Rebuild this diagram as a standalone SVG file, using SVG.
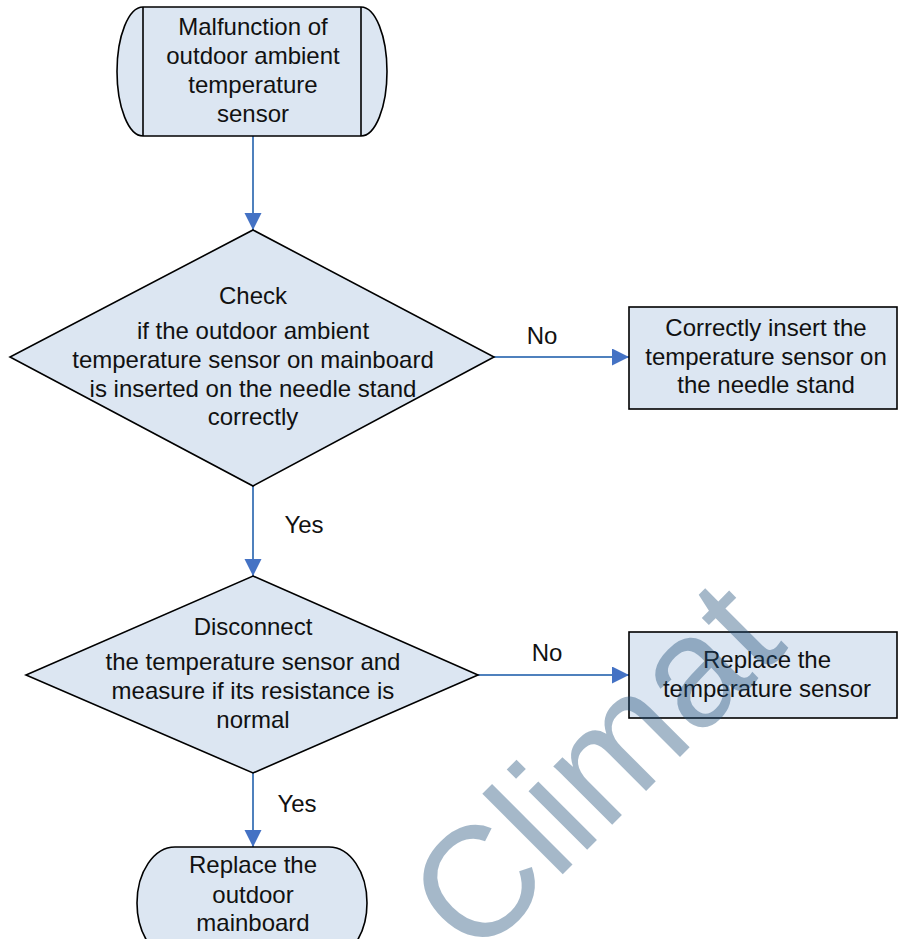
<svg xmlns="http://www.w3.org/2000/svg" width="899" height="939" viewBox="0 0 899 939">
<defs>
<style>
.node{fill:#dce6f2;stroke:#000;stroke-width:1.6}
.t{font-family:"Liberation Sans",Arial,sans-serif;font-size:24px;fill:#111;text-anchor:middle}
.c{stroke:#4f81bd;stroke-width:2;fill:none}
.wm{font-family:"Liberation Sans",Arial,sans-serif;font-size:157px;fill:#1f4e79;fill-opacity:0.4}
</style>
<marker id="ah" markerUnits="userSpaceOnUse" markerWidth="18" markerHeight="18" refX="17" refY="8.5" orient="auto">
<path d="M0,0 L17,8.5 L0,17 Z" fill="#4472c4"/>
</marker>
</defs>
<rect width="899" height="939" fill="#fff"/>
<g id="connectors">
<line class="c" x1="253" y1="136" x2="253" y2="230" marker-end="url(#ah)"/>
<line class="c" x1="494" y1="357" x2="629" y2="357" marker-end="url(#ah)"/>
<line class="c" x1="253" y1="486" x2="253" y2="576" marker-end="url(#ah)"/>
<line class="c" x1="478" y1="675" x2="629" y2="675" marker-end="url(#ah)"/>
<line class="c" x1="253" y1="773" x2="253" y2="847" marker-end="url(#ah)"/>
<text class="t" x="542" y="344">No</text>
<text class="t" x="304" y="533">Yes</text>
<text class="t" x="547" y="661">No</text>
<text class="t" x="297" y="812">Yes</text>
</g>
<g id="start">
<path class="node" d="M143,7 L361,7 A26,64.5 0 0 1 361,136 L143,136 A26,64.5 0 0 1 143,7 Z"/>
<line x1="143" y1="7" x2="143" y2="136" stroke="#000" stroke-width="1.6"/>
<line x1="361" y1="7" x2="361" y2="136" stroke="#000" stroke-width="1.6"/>
<text class="t" x="253" y="35">Malfunction of</text>
<text class="t" x="253" y="64">outdoor ambient</text>
<text class="t" x="253" y="93">temperature</text>
<text class="t" x="253" y="122">sensor</text>
</g>
<g id="check">
<polygon class="node" points="253,230 494,357 253,486 10,357"/>
<text class="t" x="253" y="304">Check</text>
<text class="t" x="253" y="339">if the outdoor ambient</text>
<text class="t" x="253" y="368">temperature sensor on mainboard</text>
<text class="t" x="253" y="397">is inserted on the needle stand</text>
<text class="t" x="253" y="425">correctly</text>
</g>
<g id="insert">
<rect class="node" x="629" y="307" width="268" height="102"/>
<text class="t" x="766" y="336">Correctly insert the</text>
<text class="t" x="766" y="365">temperature sensor on</text>
<text class="t" x="766" y="393">the needle stand</text>
</g>
<g id="disconnect">
<polygon class="node" points="253,576 478,675 253,773 26,675"/>
<text class="t" x="253" y="635">Disconnect</text>
<text class="t" x="253" y="670">the temperature sensor and</text>
<text class="t" x="253" y="699">measure if its resistance is</text>
<text class="t" x="253" y="728">normal</text>
</g>
<g id="replace-sensor">
<rect class="node" x="629" y="632" width="268" height="86"/>
<text class="t" x="767" y="668">Replace the</text>
<text class="t" x="767" y="697">temperature sensor</text>
</g>
<g id="replace-mainboard">
<rect class="node" x="137" y="847" width="230" height="112" rx="38" ry="56"/>
<text class="t" x="253" y="873">Replace the</text>
<text class="t" x="253" y="903">outdoor</text>
<text class="t" x="253" y="931">mainboard</text>
</g>
<text class="wm" transform="translate(475,962) rotate(-45)">Climat</text>
</svg>
